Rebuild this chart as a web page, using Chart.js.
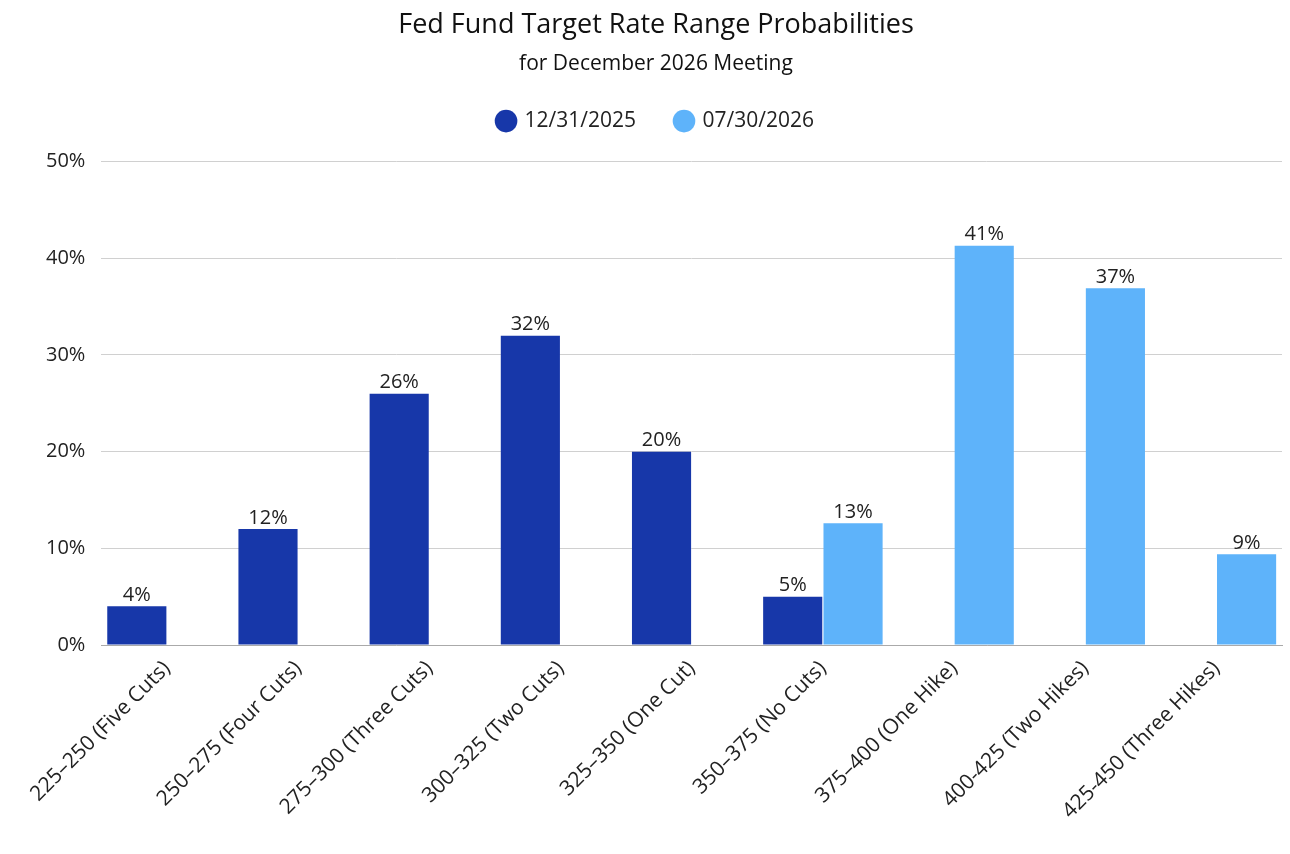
<!DOCTYPE html>
<html>
<head>
<meta charset="utf-8">
<script src="https://cdn.jsdelivr.net/npm/chart.js@4.4.1/dist/chart.umd.min.js"></script>
<style>
  html, body { margin: 0; padding: 0; background: #fff; }
  #wrap { width: 1290px; height: 854px; }
</style>
</head>
<body>
<div id="wrap"><canvas id="myBarChart"></canvas></div>
<script>
// categories + series
var categories = [
    "225–250 (Five Cuts)", "250–275 (Four Cuts)", "275–300 (Three Cuts)",
    "300–325 (Two Cuts)", "325–350 (One Cut)", "350–375 (No Cuts)",
    "375–400 (One Hike)", "400-425 (Two Hikes)", "425-450 (Three Hikes)"
];
var dec2025 = [4, 12, 26, 32, 20, 5, null, null, null];
var jul2026 = [null, null, null, null, null, 12.6, 41.3, 36.9, 9.4];
var yTicks = [0, 10, 20, 30, 40, 50];

var FONT = "'Open Sans', 'Noto Sans', sans-serif";
Chart.defaults.font.family = FONT;
Chart.defaults.color = '#222';

// labels above the bars
var barLabels = {
    id: 'barLabels',
    afterDatasetsDraw: function(chart){
        var ctx = chart.ctx;
        ctx.save();
        ctx.font = '20px ' + FONT;
        ctx.fillStyle = '#222';
        ctx.textAlign = 'center';
        ctx.textBaseline = 'bottom';
        chart.data.datasets.forEach(function(ds, i){
            var meta = chart.getDatasetMeta(i);
            meta.data.forEach(function(bar, j){
                var v = ds.data[j];
                if (v === null) return;
                ctx.fillText(Math.round(v) + '%', bar.x, bar.y - 1);
            });
        });
        ctx.restore();
    }
};

// more room under the legend
var legendGap = {
    id: 'legendGap',
    beforeInit: function(chart){
        var fit = chart.legend.fit;
        chart.legend.fit = function(){
            fit.call(this);
            this.height += 20;
        };
    }
};

var ctx = document.getElementById("myBarChart");
var myBarChart = new Chart(ctx, {
    type: 'bar',
    data: {
        labels: categories,
        datasets: [{
            label: '12/31/2025',
            data: dec2025,
            backgroundColor: '#1737A9',
            categoryPercentage: 0.92,
            barPercentage: 0.98
        }, {
            label: '07/30/2026',
            data: jul2026,
            backgroundColor: '#5EB3FA',
            categoryPercentage: 0.92,
            barPercentage: 0.98
        }]
    },
    options: {
        responsive: true,
        maintainAspectRatio: false,
        animation: false,
        layout: { padding: { left: 30, right: 8, top: 4, bottom: 27 } },
        plugins: {
            title: {
                display: true,
                text: 'Fed Fund Target Rate Range Probabilities',
                font: { size: 27, weight: 'normal' },
                color: '#111',
                padding: { top: 5, bottom: 8 }
            },
            subtitle: {
                display: true,
                text: 'for December 2026 Meeting',
                font: { size: 21, weight: 'normal' },
                color: '#111',
                padding: { top: 2, bottom: -6 }
            },
            legend: {
                labels: {
                    usePointStyle: true,
                    pointStyle: 'circle',
                    boxWidth: 16,
                    boxHeight: 16,
                    padding: 40,
                    font: { size: 21 },
                    color: '#222'
                }
            },
            tooltip: { enabled: false }
        },
        scales: {
            x: {
                grid: { display: false },
                border: { color: '#aaa' },
                ticks: {
                    maxRotation: 45,
                    minRotation: 45,
                    font: { size: 21 },
                    color: '#222'
                }
            },
            y: {
                min: 0,
                max: 50,
                afterBuildTicks: function(scale){
                    scale.ticks = yTicks.map(function(v){ return { value: v }; });
                },
                grid: { color: '#d0d0d0', drawTicks: false },
                border: { display: false },
                ticks: {
                    padding: 16,
                    font: { size: 20 },
                    color: '#222',
                    callback: function(v){ return v + '%'; }
                }
            }
        }
    },
    plugins: [barLabels, legendGap]
});
</script>
</body>
</html>
